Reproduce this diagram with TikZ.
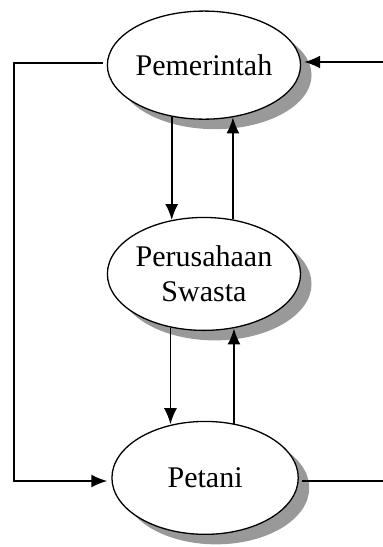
\documentclass[tikz,border=0pt]{standalone}
\usepackage{fontspec}
\setmainfont{Liberation Serif}
\usetikzlibrary{shapes.geometric,shadows,arrows.meta}

\tikzset{
    aktor/.style={shape=ellipse,draw=black,fill=white,line width=1.3pt,
        minimum width=6.55cm,minimum height=3.8cm,inner sep=0pt,align=center,
        font=\fontsize{30}{35}\selectfont,
        drop shadow={shadow xshift=11pt,shadow yshift=-10pt,fill=black!40,opacity=1}},
    alur/.style={line width=1.8pt},
    panah/.style={alur,-{Latex[length=16pt,width=13pt]}}
}

\begin{document}
\begin{tikzpicture}
        \useasboundingbox (0,0) rectangle (13.46,19.23);
        \node[aktor] (Pem) at (7.17,16.94) {Pemerintah};
        \node[aktor,minimum height=3.97cm] (Per) at (7.17,9.60) {Perusahaan\\Swasta};
        \node[aktor,minimum height=3.97cm] (Pet) at (7.21,2.43) {Petani};
        \coordinate (kiri) at (0.49,17.01);
        \coordinate (kanan1) at (13.46,17.05);
        \coordinate (kanan2) at (13.46,2.32);
        % antara pemerintah dan perusahaan
        \path [panah] (Pem.238) edge (Pem.238 |- Per.121);
        \path [panah] (Per.62) edge (Per.62 |- Pem.299);
        % antara perusahaan dan petani
        \path [panah] (Per.238) edge (Per.238 |- Pet.121);
        \path [panah] (Pet.62) edge (Pet.62 |- Per.298);
        % jalur luar
        \draw [panah,shorten <=4pt,shorten >=4pt] (Pem.west |- kiri) -- (kiri) |- (Pet.west |- kanan2);
        \path [panah,shorten >=3pt] (kanan1) edge (Pem.east |- kanan1);
        \draw [alur,shorten <=3pt] (Pet.east |- kanan2) -- (kanan2);
    \end{tikzpicture}
\end{document}
